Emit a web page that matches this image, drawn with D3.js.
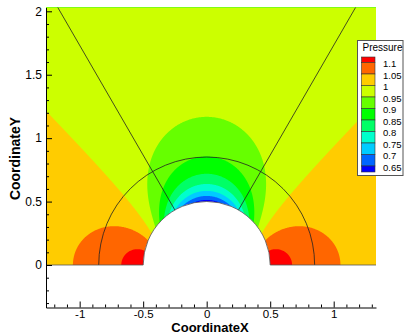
<!DOCTYPE html>
<html>
<head>
<meta charset="utf-8">
<script src="https://cdn.jsdelivr.net/npm/d3@7"></script>
<style>
  html, body { margin: 0; padding: 0; background: #fff; }
  svg { display: block; font-family: "Liberation Sans", Arial, Helvetica, sans-serif; }
</style>
</head>
<body>
<svg id="chart" width="404" height="335"></svg>
<script>
// Pressure contour levels, low to high
const levels = [0.65, 0.7, 0.75, 0.8, 0.85, 0.9, 0.95, 1, 1.05, 1.1];
// Flood colours: the band below the first level, then one band above each level
const bandColors = ["#0000ff", "#0066ff", "#00ccff", "#00ffcc", "#00ff66", "#00ff00",
                    "#66ff00", "#ccff00", "#ffcc00", "#ff6600", "#ff0000"];
const legendLabels = ["1.1", "1.05", "1", "0.95", "0.9", "0.85", "0.8", "0.75", "0.7", "0.65"];

// Axes
const xRange = [-1.265, 1.333];
const yRange = [-0.335, 2.03];
const xTicks = [-1, -0.5, 0, 0.5, 1];
const xTickLabels = ["-1", "-0.5", "0", "0.5", "1"];
const yTicks = [0, 0.5, 1, 1.5, 2];
const yTickLabels = ["0", "0.5", "1", "1.5", "2"];

// Flow past the cylinder (upper half plane)
const cylinderRadius = 0.5;
const freestreamPressure = 1;
const dynamicPressure = 0.125;

// Mesh block boundaries: an arc around the body and two radial cuts (degrees)
const blockArcRadius = 0.85;
const blockRayAngles = [60, 120];

const svg = d3.select("#chart");
const x = d3.scaleLinear().domain(xRange).range([46, 376]);
const y = d3.scaleLinear().domain(yRange).range([307.5, 7.5]);

// Potential-flow pressure; inside the body the surface value is carried inward
function pressure(px, py) {
  const a2 = cylinderRadius * cylinderRadius;
  let r2 = px * px + py * py;
  if (r2 < 1e-12) { px = 0; py = cylinderRadius; r2 = a2; }
  else if (r2 < a2) { const s = Math.sqrt(a2 / r2); px *= s; py *= s; r2 = a2; }
  const k = a2 / r2;
  const speed2 = (1 - k) * (1 - k) * (px * px / r2) + (1 + k) * (1 + k) * (py * py / r2);
  return freestreamPressure + dynamicPressure * (1 - speed2);
}

// Sample the field on a regular grid covering the zone
const step = 0.005;
const gx0 = xRange[0] - 2 * step, gy0 = -2 * step;
const nx = Math.ceil((xRange[1] - gx0) / step) + 3;
const ny = Math.ceil((yRange[1] - gy0) / step) + 3;
const values = new Float64Array(nx * ny);
for (let j = 0; j < ny; j++) {
  for (let i = 0; i < nx; i++) {
    values[j * nx + i] = pressure(gx0 + i * step, gy0 + j * step);
  }
}

const bands = d3.contours().size([nx, ny]).thresholds(levels)(values);
const gridToScreen = d3.geoTransform({
  point(cx, cy) {
    this.stream.point(x(gx0 + (cx - 0.5) * step), y(gy0 + (cy - 0.5) * step));
  }
});
const bandPath = d3.geoPath(gridToScreen);

const defs = svg.append("defs");
defs.append("clipPath").attr("id", "zone")
  .append("rect")
  .attr("x", x(xRange[0])).attr("y", y(yRange[1]))
  .attr("width", x(xRange[1]) - x(xRange[0]))
  .attr("height", y(0) - y(yRange[1]));

const zone = svg.append("g").attr("clip-path", "url(#zone)");
zone.append("rect")
  .attr("x", x(xRange[0])).attr("y", y(yRange[1]))
  .attr("width", x(xRange[1]) - x(xRange[0]))
  .attr("height", y(0) - y(yRange[1]))
  .attr("fill", bandColors[0]);
zone.selectAll("path.band").data(bands).join("path")
  .attr("class", "band")
  .attr("d", bandPath)
  .attr("fill", (d, i) => bandColors[i + 1]);

// Body: white half disk
const rPx = x(cylinderRadius) - x(0);
zone.append("circle")
  .attr("cx", x(0)).attr("cy", y(0)).attr("r", rPx)
  .attr("fill", "#fff");

// Block boundary lines
const blockArc = d3.path();
blockArc.arc(x(0), y(0), x(blockArcRadius) - x(0), Math.PI, 2 * Math.PI);
zone.append("path").attr("d", blockArc.toString())
  .attr("fill", "none").attr("stroke", "#222").attr("stroke-width", 0.8);
const rayLength = 4;
zone.selectAll("line.ray").data(blockRayAngles).join("line")
  .attr("class", "ray")
  .attr("x1", d => x(cylinderRadius * Math.cos(d * Math.PI / 180)))
  .attr("y1", d => y(cylinderRadius * Math.sin(d * Math.PI / 180)))
  .attr("x2", d => x(rayLength * Math.cos(d * Math.PI / 180)))
  .attr("y2", d => y(rayLength * Math.sin(d * Math.PI / 180)))
  .attr("stroke", "#222").attr("stroke-width", 0.8);

// Zone edges: symmetry line and body surface
const edge = d3.path();
edge.moveTo(x(xRange[0]), y(0)); edge.lineTo(x(-cylinderRadius), y(0));
edge.arc(x(0), y(0), rPx, Math.PI, 2 * Math.PI);
edge.lineTo(x(xRange[1]), y(0));
svg.append("path").attr("d", edge.toString())
  .attr("fill", "none").attr("stroke", "#555").attr("stroke-width", 0.8);

// Axes with inward ticks
const minorX = d3.range(-12, 14).map(v => v / 10).filter(v => !xTicks.includes(v));
const minorY = d3.range(-3, 21).map(v => v / 10).filter(v => !yTicks.includes(v));

const xAxisG = svg.append("g").attr("transform", `translate(0,${y(yRange[0])})`)
  .call(d3.axisBottom(x).tickValues(xTicks).tickSizeInner(-6).tickSizeOuter(0)
    .tickPadding(2).tickFormat((d, i) => xTickLabels[i]));
svg.append("g").attr("transform", `translate(0,${y(yRange[0])})`)
  .call(d3.axisBottom(x).tickValues(minorX).tickSizeInner(-3).tickSizeOuter(0).tickFormat(""))
  .select(".domain").remove();

const yAxisG = svg.append("g").attr("transform", `translate(${x(xRange[0])},0)`)
  .call(d3.axisLeft(y).tickValues(yTicks).tickSizeInner(-6).tickSizeOuter(0)
    .tickPadding(4).tickFormat((d, i) => yTickLabels[i]));
svg.append("g").attr("transform", `translate(${x(xRange[0])},0)`)
  .call(d3.axisLeft(y).tickValues(minorY).tickSizeInner(-3).tickSizeOuter(0).tickFormat(""))
  .select(".domain").remove();

svg.selectAll(".tick text").attr("fill", "#000")
  .attr("font-family", "'Liberation Sans', Arial, sans-serif");
yAxisG.selectAll(".tick text").attr("font-size", 12);
xAxisG.selectAll(".tick text").attr("font-size", 11.5);

svg.append("text")
  .attr("x", 210).attr("y", 332.2)
  .attr("text-anchor", "middle")
  .attr("font-size", 13).attr("font-weight", "bold")
  .text("CoordinateX");
svg.append("text")
  .attr("transform", "translate(20,158.5) rotate(-90)")
  .attr("text-anchor", "middle")
  .attr("font-size", 14).attr("font-weight", "bold")
  .text("CoordinateY");

// Legend
const legend = svg.append("g");
legend.append("rect")
  .attr("x", 357.5).attr("y", 40.5).attr("width", 45.5).attr("height", 135)
  .attr("fill", "#fff").attr("stroke", "#555").attr("stroke-width", 1);
legend.append("text")
  .attr("x", 362.5).attr("y", 50.5)
  .attr("font-size", 10).text("Pressure");

const swTop = 57, swFirst = 62.5, swStep = 11.5, swX = 361.5, swW = 13.5;
const edges = [swTop, ...legendLabels.map((d, i) => swFirst + i * swStep)];
edges.push(edges[edges.length - 1] + 6);
const swatchColors = bandColors.slice().reverse();
legend.selectAll("rect.sw").data(swatchColors).join("rect")
  .attr("class", "sw")
  .attr("x", swX).attr("width", swW)
  .attr("y", (d, i) => edges[i])
  .attr("height", (d, i) => edges[i + 1] - edges[i])
  .attr("fill", d => d)
  .attr("stroke", "#333").attr("stroke-width", 0.6);
legend.selectAll("text.lab").data(legendLabels).join("text")
  .attr("class", "lab")
  .attr("x", 383).attr("y", (d, i) => swFirst + i * swStep + 4.8)
  .attr("font-size", 9.5).text(d => d);
</script>
</body>
</html>
